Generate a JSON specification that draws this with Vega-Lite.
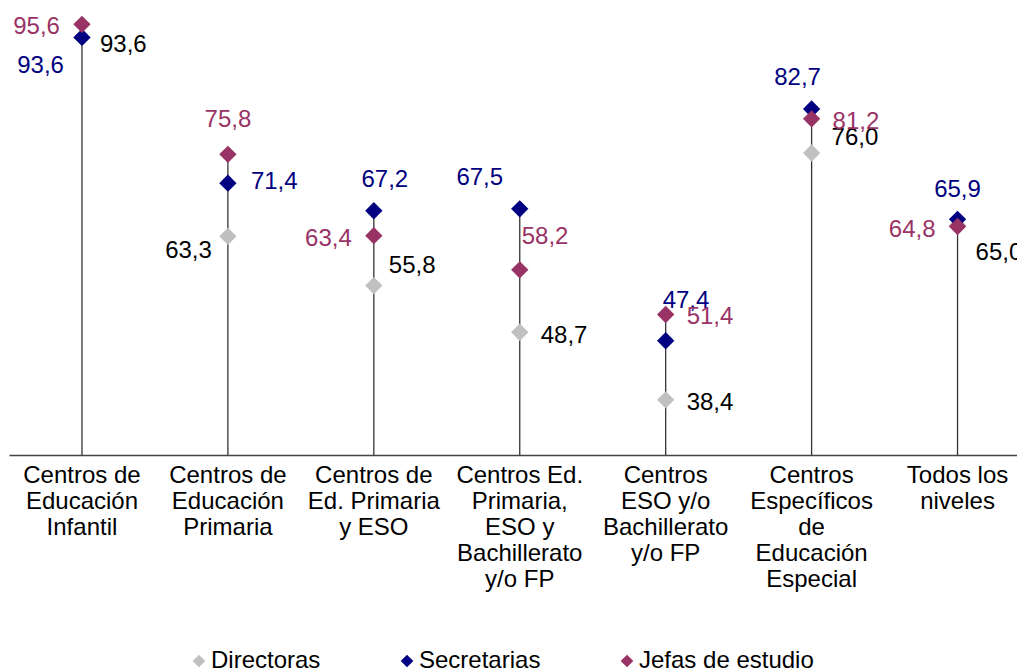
{
  "$schema": "https://vega.github.io/schema/vega-lite/v6.json",
  "description": "Porcentaje de mujeres en cargos directivos por tipo de centro",
  "width": 1008,
  "height": 455,
  "autosize": {"type": "none"},
  "padding": {"left": 9, "top": 0, "right": 0, "bottom": 217},
  "background": "white",
  "config": {
    "view": {"stroke": null},
    "font": "Liberation Sans",
    "locale": {"number": {"decimal": ",", "thousands": ".", "grouping": [3], "currency": ["", " €"]}}
  },
  "data": {"values": [
    {"centro": "Centros de Educación Infantil", "serie": "Directoras", "valor": 93.6},
    {"centro": "Centros de Educación Primaria", "serie": "Directoras", "valor": 63.3},
    {"centro": "Centros de Ed. Primaria y ESO", "serie": "Directoras", "valor": 55.8},
    {"centro": "Centros Ed. Primaria, ESO y Bachillerato y/o FP", "serie": "Directoras", "valor": 48.7},
    {"centro": "Centros ESO y/o Bachillerato y/o FP", "serie": "Directoras", "valor": 38.4},
    {"centro": "Centros Específicos de Educación Especial", "serie": "Directoras", "valor": 76.0},
    {"centro": "Todos los niveles", "serie": "Directoras", "valor": 65.0},
    {"centro": "Centros de Educación Infantil", "serie": "Secretarias", "valor": 93.6},
    {"centro": "Centros de Educación Primaria", "serie": "Secretarias", "valor": 71.4},
    {"centro": "Centros de Ed. Primaria y ESO", "serie": "Secretarias", "valor": 67.2},
    {"centro": "Centros Ed. Primaria, ESO y Bachillerato y/o FP", "serie": "Secretarias", "valor": 67.5},
    {"centro": "Centros ESO y/o Bachillerato y/o FP", "serie": "Secretarias", "valor": 47.4},
    {"centro": "Centros Específicos de Educación Especial", "serie": "Secretarias", "valor": 82.7},
    {"centro": "Todos los niveles", "serie": "Secretarias", "valor": 65.9},
    {"centro": "Centros de Educación Infantil", "serie": "Jefas de estudio", "valor": 95.6},
    {"centro": "Centros de Educación Primaria", "serie": "Jefas de estudio", "valor": 75.8},
    {"centro": "Centros de Ed. Primaria y ESO", "serie": "Jefas de estudio", "valor": 63.4},
    {"centro": "Centros Ed. Primaria, ESO y Bachillerato y/o FP", "serie": "Jefas de estudio", "valor": 58.2},
    {"centro": "Centros ESO y/o Bachillerato y/o FP", "serie": "Jefas de estudio", "valor": 51.4},
    {"centro": "Centros Específicos de Educación Especial", "serie": "Jefas de estudio", "valor": 81.2},
    {"centro": "Todos los niveles", "serie": "Jefas de estudio", "valor": 64.8}
  ]},
  "encoding": {
    "x": {
      "field": "centro", "type": "nominal", "sort": null,
      "scale": {"type": "band", "paddingInner": 0, "paddingOuter": 0, "range": [0, 1021.5]},
      "axis": {
        "title": null, "labelAngle": 0, "ticks": false, "domainColor": "#444444", "domainWidth": 1.5,
        "labelFontSize": 24, "labelLineHeight": 26, "labelColor": "#000000", "labelFont": "Liberation Sans",
        "labelLimit": 0, "labelOverlap": false, "labelBaseline": "top", "labelPadding": 8,
        "labelExpr": "datum.label == 'Centros de Educación Infantil' ? ['Centros de','Educación','Infantil'] : datum.label == 'Centros de Educación Primaria' ? ['Centros de','Educación','Primaria'] : datum.label == 'Centros de Ed. Primaria y ESO' ? ['Centros de','Ed. Primaria','y ESO'] : datum.label == 'Centros Ed. Primaria, ESO y Bachillerato y/o FP' ? ['Centros Ed.','Primaria,','ESO y','Bachillerato','y/o FP'] : datum.label == 'Centros ESO y/o Bachillerato y/o FP' ? ['Centros','ESO y/o','Bachillerato','y/o FP'] : datum.label == 'Centros Específicos de Educación Especial' ? ['Centros','Específicos','de','Educación','Especial'] : ['Todos los','niveles']"
      }
    },
    "y": {"field": "valor", "type": "quantitative", "scale": {"domain": [30, 99.3], "nice": false, "zero": false}, "axis": null}
  },
  "layer": [
    {
      "mark": {"type": "rule", "color": "#333333", "strokeWidth": 1.3},
      "encoding": {
        "y": {"aggregate": "max", "field": "valor", "type": "quantitative"},
        "y2": {"datum": 30}
      }
    },
    {
      "mark": {"type": "point", "shape": "diamond", "filled": true, "size": 300, "opacity": 1},
      "encoding": {
        "color": {
          "field": "serie", "type": "nominal",
          "scale": {"domain": ["Directoras", "Secretarias", "Jefas de estudio"], "range": ["#C0C0C0", "#000080", "#993366"]},
          "legend": {
            "title": null, "orient": "none", "direction": "horizontal", "legendX": 178, "legendY": 649,
            "symbolType": "diamond", "symbolSize": 160, "labelFontSize": 24, "labelFont": "Liberation Sans",
            "labelColor": "#000000", "columnPadding": 74, "labelOffset": 0, "labelLimit": 0, "symbolStrokeWidth": 0
          }
        }
      }
    },
    {
      "encoding": {
        "text": {"field": "valor", "type": "quantitative", "format": ".1f"},
        "fill": {
          "field": "serie", "type": "nominal",
          "scale": {"domain": ["Directoras", "Secretarias", "Jefas de estudio"], "range": ["#000000", "#000080", "#993366"]},
          "legend": null
        }
      },
      "layer": [
        {"transform": [{"filter": "datum.serie=='Directoras' && datum.centro=='Centros de Educación Infantil'"}],
         "mark": {"type": "text", "align": "left", "baseline": "middle", "dx": 18, "dy": 8, "fontSize": 24}},
        {"transform": [{"filter": "datum.serie=='Directoras' && datum.centro=='Centros de Educación Primaria'"}],
         "mark": {"type": "text", "align": "right", "baseline": "middle", "dx": -16, "dy": 15, "fontSize": 24}},
        {"transform": [{"filter": "datum.serie=='Directoras' && datum.centro=='Centros de Ed. Primaria y ESO'"}],
         "mark": {"type": "text", "align": "left", "baseline": "middle", "dx": 15, "dy": -20, "fontSize": 24}},
        {"transform": [{"filter": "datum.serie=='Directoras' && (datum.centro=='Centros Ed. Primaria, ESO y Bachillerato y/o FP' || datum.centro=='Centros ESO y/o Bachillerato y/o FP')"}],
         "mark": {"type": "text", "align": "left", "baseline": "middle", "dx": 21, "dy": 3.5, "fontSize": 24}},
        {"transform": [{"filter": "datum.serie=='Directoras' && datum.centro=='Centros Específicos de Educación Especial'"}],
         "mark": {"type": "text", "align": "left", "baseline": "middle", "dx": 20, "dy": -15, "fontSize": 24}},
        {"transform": [{"filter": "datum.serie=='Directoras' && datum.centro=='Todos los niveles'"}],
         "mark": {"type": "text", "align": "left", "baseline": "middle", "dx": 18, "dy": 28, "fontSize": 24}},
        {"transform": [{"filter": "datum.serie=='Secretarias' && datum.centro=='Centros de Educación Infantil'"}],
         "mark": {"type": "text", "align": "right", "baseline": "middle", "dx": -18, "dy": 29, "fontSize": 24}},
        {"transform": [{"filter": "datum.serie=='Secretarias' && datum.centro=='Centros de Educación Primaria'"}],
         "mark": {"type": "text", "align": "left", "baseline": "middle", "dx": 23, "dy": -1, "fontSize": 24}},
        {"transform": [{"filter": "datum.serie=='Secretarias' && datum.centro=='Centros de Ed. Primaria y ESO'"}],
         "mark": {"type": "text", "align": "center", "baseline": "middle", "dx": 11, "dy": -31, "fontSize": 24}},
        {"transform": [{"filter": "datum.serie=='Secretarias' && datum.centro=='Centros Ed. Primaria, ESO y Bachillerato y/o FP'"}],
         "mark": {"type": "text", "align": "center", "baseline": "middle", "dx": -40, "dy": -30.5, "fontSize": 24}},
        {"transform": [{"filter": "datum.serie=='Secretarias' && datum.centro=='Centros ESO y/o Bachillerato y/o FP'"}],
         "mark": {"type": "text", "align": "left", "baseline": "middle", "dx": -3, "dy": -40, "fontSize": 24}},
        {"transform": [{"filter": "datum.serie=='Secretarias' && datum.centro=='Centros Específicos de Educación Especial'"}],
         "mark": {"type": "text", "align": "center", "baseline": "middle", "dx": -14, "dy": -31, "fontSize": 24}},
        {"transform": [{"filter": "datum.serie=='Secretarias' && datum.centro=='Todos los niveles'"}],
         "mark": {"type": "text", "align": "center", "baseline": "middle", "dx": 0, "dy": -29, "fontSize": 24}},
        {"transform": [{"filter": "datum.serie=='Jefas de estudio' && (datum.centro=='Centros de Educación Infantil' || datum.centro=='Centros de Ed. Primaria y ESO' || datum.centro=='Todos los niveles')"}],
         "mark": {"type": "text", "align": "right", "baseline": "middle", "dx": -22, "dy": 3, "fontSize": 24}},
        {"transform": [{"filter": "datum.serie=='Jefas de estudio' && datum.centro=='Centros de Educación Primaria'"}],
         "mark": {"type": "text", "align": "center", "baseline": "middle", "dx": 0, "dy": -34, "fontSize": 24}},
        {"transform": [{"filter": "datum.serie=='Jefas de estudio' && datum.centro=='Centros Ed. Primaria, ESO y Bachillerato y/o FP'"}],
         "mark": {"type": "text", "align": "left", "baseline": "middle", "dx": 2, "dy": -33, "fontSize": 24}},
        {"transform": [{"filter": "datum.serie=='Jefas de estudio' && (datum.centro=='Centros ESO y/o Bachillerato y/o FP' || datum.centro=='Centros Específicos de Educación Especial')"}],
         "mark": {"type": "text", "align": "left", "baseline": "middle", "dx": 21, "dy": 3, "fontSize": 24}}
      ]
    }
  ]
}
